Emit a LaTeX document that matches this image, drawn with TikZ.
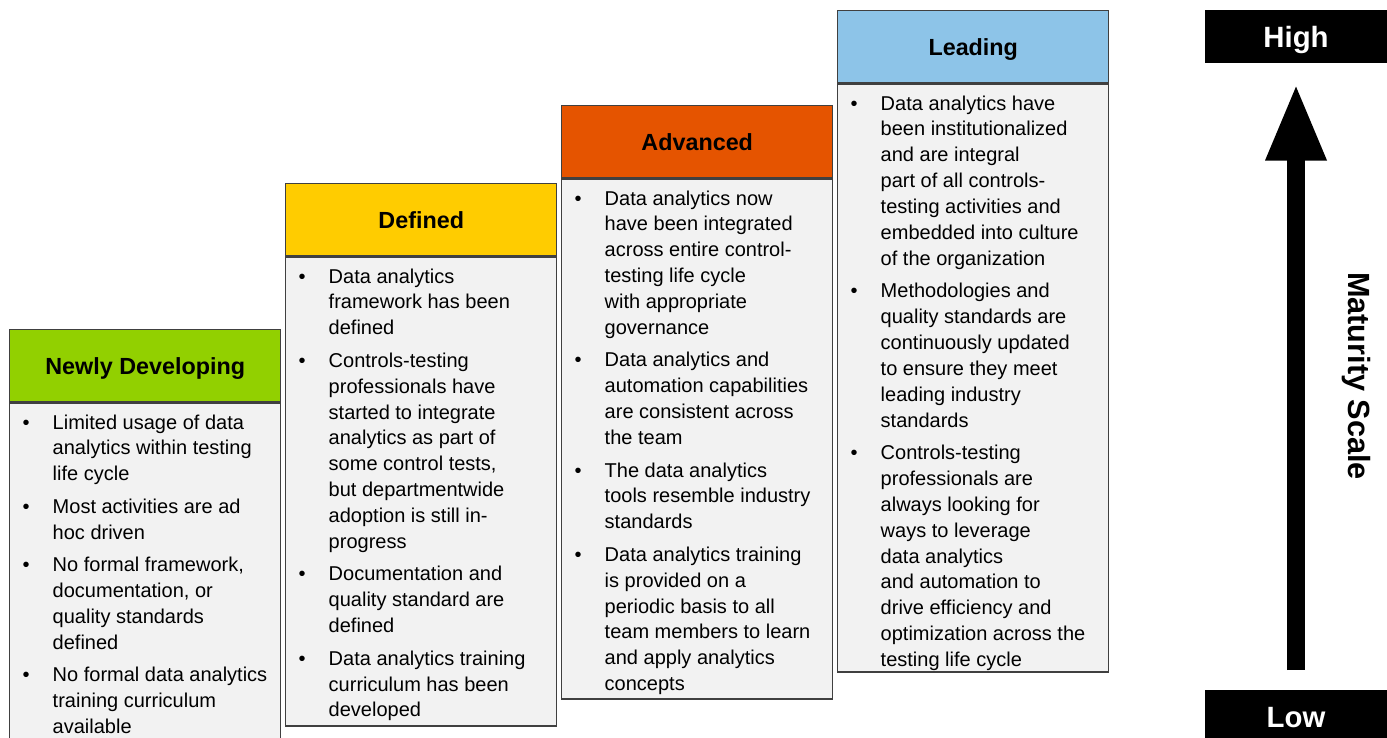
\documentclass[tikz,border=0pt]{standalone}
\usepackage{fontspec}
\setmainfont{Liberation Sans}
\usepackage{enumitem}
\usetikzlibrary{arrows.meta}

\definecolor{newlygreen}{RGB}{146,208,0}
\definecolor{definedyellow}{RGB}{255,204,0}
\definecolor{advancedorange}{RGB}{229,84,0}
\definecolor{leadingblue}{RGB}{141,196,232}
\definecolor{bodygray}{RGB}{242,242,242}
\definecolor{edgegray}{RGB}{64,64,64}

\newlist{stagelist}{itemize}{1}
\setlist[stagelist]{label=\textbullet, align=left, leftmargin=32.25pt, labelwidth=22.5pt,
  labelsep=0pt, rightmargin=0pt, topsep=0pt, partopsep=0pt, parsep=0pt, itemsep=5pt}

% body of one stage: height, items
\newcommand{\stagetext}[2]{%
  \begin{minipage}[t][#1][t]{203.25pt}
    \fontsize{15pt}{19.4pt}\selectfont\raggedright
    \vspace*{8.5pt}
    \begin{stagelist}#2\end{stagelist}
  \end{minipage}}

\tikzset{
  stagehead/.style={draw=edgegray, line width=1.1pt, anchor=north west, inner sep=0pt,
    minimum width=203.25pt, minimum height=54pt, text height=15.5pt, text depth=3pt,
    font=\fontsize{17.5pt}{21pt}\selectfont\bfseries},
  stagebody/.style={draw=edgegray, line width=1.1pt, fill=bodygray, anchor=north west, inner sep=0pt},
  scalebox/.style={fill=black, text=white, inner sep=0pt, minimum width=136.5pt,
    minimum height=39.75pt, text height=19pt, text depth=3pt, font=\fontsize{22pt}{26pt}\selectfont\bfseries},
}

\begin{document}
\begin{tikzpicture}[x=0.75pt, y=-0.75pt]
        \useasboundingbox (0,0) rectangle (1387,738);
        % Newly developing
        \node[stagehead, fill=newlygreen] (newly) at (9,329) {Newly Developing};
        \node[stagebody] (newlybody) at (newly.south west) {\stagetext{258pt}{
            \item Limited usage of data\\ analytics within testing\\ life cycle
            \item Most activities are ad\\ hoc driven
            \item No formal framework,\\ documentation, or\\ quality standards\\ defined
            \item No formal data analytics\\ training curriculum\\ available}};
        % Defined
        \node[stagehead, fill=definedyellow] (defined) at (285,183) {Defined};
        \node[stagebody] (definedbody) at (defined.south west) {\stagetext{351.75pt}{
            \item Data analytics\\ framework has been\\ defined
            \item Controls-testing\\ professionals have\\ started to integrate\\ analytics as part of\\ some control tests,\\ but departmentwide\\ adoption is still in-\\ progress
            \item Documentation and\\ quality standard are\\ defined
            \item Data analytics training\\ curriculum has been\\ developed}};
        % Advanced
        \node[stagehead, fill=advancedorange] (advanced) at (561,105) {Advanced};
        \node[stagebody] (advancedbody) at (advanced.south west) {\stagetext{390pt}{
            \item Data analytics now\\ have been integrated\\ across entire control-\\ testing life cycle\\ with appropriate\\ governance
            \item Data analytics and\\ automation capabilities\\ are consistent across\\ the team
            \item The data analytics\\ tools resemble industry\\ standards
            \item Data analytics training\\ is provided on a\\ periodic basis to all\\ team members to learn\\ and apply analytics\\ concepts}};
        % Leading
        \node[stagehead, fill=leadingblue] (leading) at (837,10) {Leading};
        \node[stagebody] (leadingbody) at (leading.south west) {\stagetext{441pt}{
            \item Data analytics have\\ been institutionalized\\ and are integral\\ part of all controls-\\ testing activities and\\ embedded into culture\\ of the organization
            \item Methodologies and\\ quality standards are\\ continuously updated\\ to ensure they meet\\ leading industry\\ standards
            \item Controls-testing\\ professionals are\\ always looking for\\ ways to leverage\\ data analytics\\ and automation to\\ drive efficiency and\\ optimization across the\\ testing life cycle}};
        % Maturity scale
        \node[scalebox, anchor=north] (high) at (1296,10) {High};
        \node[scalebox, anchor=north] (low) at (1296,690) {Low};
        \draw[line width=13.5pt, -{Triangle[width=42pt, length=57.75pt]}, shorten <=15pt, shorten >=15pt]
            (low.north) -- (high.south);
        \node[rotate=-90, font=\fontsize{23pt}{27pt}\selectfont\bfseries] (scale) at (1356,376) {Maturity Scale};
\end{tikzpicture}
\end{document}
